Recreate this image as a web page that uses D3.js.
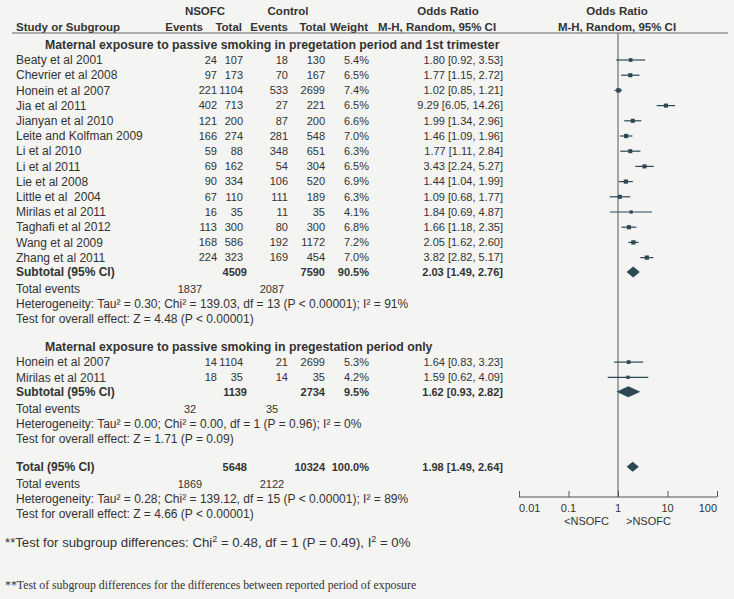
<!DOCTYPE html>
<html>
<head>
<meta charset="utf-8">
<script src="https://cdn.jsdelivr.net/npm/d3@7"></script>
<style>
  body { margin: 0; background: #f4f4f2; }
  svg text { font-family: "Liberation Sans", Arial, sans-serif; font-size: 12px; fill: #333; white-space: pre; }
  svg text.b { font-weight: bold; }
  svg text.num { font-size: 11px; }
  svg text.hd { font-size: 11.5px; font-weight: bold; }
</style>
</head>
<body>
<div id="chart"></div>
<script>
// Forest plot data
const groupTitles = [
  "Maternal exposure to passive smoking in pregetation period and 1st trimester",
  "Maternal exposure to passive smoking in pregestation period only"
];
const studyNames = ["Beaty et al 2001", "Chevrier et al 2008", "Honein et al 2007", "Jia et al 2011",
  "Jianyan et al 2010", "Leite and Kolfman 2009", "Li et al 2010", "Li et al 2011", "Lie et al 2008",
  "Little et al  2004", "Mirilas et al 2011", "Taghafi et al 2012", "Wang et al 2009", "Zhang et al 2011",
  "Honein et al 2007", "Mirilas et al 2011"];
const studyGroup = [0,0,0,0,0,0,0,0,0,0,0,0,0,0,1,1];
const nsofcEvents = [24, 97, 221, 402, 121, 166, 59, 69, 90, 67, 16, 113, 168, 224, 14, 18];
const nsofcTotal = [107, 173, 1104, 713, 200, 274, 88, 162, 334, 110, 35, 300, 586, 323, 1104, 35];
const controlEvents = [18, 70, 533, 27, 87, 281, 348, 54, 106, 111, 11, 80, 192, 169, 21, 14];
const controlTotal = [130, 167, 2699, 221, 200, 548, 651, 304, 520, 189, 35, 300, 1172, 454, 2699, 35];
const weights = [5.4, 6.5, 7.4, 6.5, 6.6, 7.0, 6.3, 6.5, 6.9, 6.3, 4.1, 6.8, 7.2, 7.0, 5.3, 4.2];
const oddsRatio = [1.80, 1.77, 1.02, 9.29, 1.99, 1.46, 1.77, 3.43, 1.44, 1.09, 1.84, 1.66, 2.05, 3.82, 1.64, 1.59];
const ciLower = [0.92, 1.15, 0.85, 6.05, 1.34, 1.09, 1.11, 2.24, 1.04, 0.68, 0.69, 1.18, 1.62, 2.82, 0.83, 0.62];
const ciUpper = [3.53, 2.72, 1.21, 14.26, 2.96, 1.96, 2.84, 5.27, 1.99, 1.77, 4.87, 2.35, 2.60, 5.17, 3.23, 4.09];

// subtotal 1, subtotal 2, overall total
const summaryNames = ["Subtotal (95% CI)", "Subtotal (95% CI)", "Total (95% CI)"];
const summaryNsofcTotal = [4509, 1139, 5648];
const summaryControlTotal = [7590, 2734, 10324];
const summaryWeight = [90.5, 9.5, 100.0];
const summaryOR = [2.03, 1.62, 1.98];
const summaryLower = [1.49, 0.93, 1.49];
const summaryUpper = [2.76, 2.82, 2.64];
const totalEventsNsofc = [1837, 32, 1869];
const totalEventsControl = [2087, 35, 2122];
const heterogeneityText = [
  "Heterogeneity: Tau² = 0.30; Chi² = 139.03, df = 13 (P < 0.00001); I² = 91%",
  "Heterogeneity: Tau² = 0.00; Chi² = 0.00, df = 1 (P = 0.96); I² = 0%",
  "Heterogeneity: Tau² = 0.28; Chi² = 139.12, df = 15 (P < 0.00001); I² = 89%"
];
const overallEffectText = [
  "Test for overall effect: Z = 4.48 (P < 0.00001)",
  "Test for overall effect: Z = 1.71 (P = 0.09)",
  "Test for overall effect: Z = 4.66 (P < 0.00001)"
];
const axisTicks = [0.01, 0.1, 1, 10, 100];
const tickLabels = ["0.01", "0.1", "1", "10", "100"];

const w = 734, h = 599;
const markColor = "#2b4853";
const f2 = d3.format(".2f");
const f1 = d3.format(".1f");

// columns (right edges unless noted)
const col = { name: 16, title: 45, nEv: 217, nTot: 243, cEv: 288, cTot: 325, weight: 369, or: 503 };

const x = d3.scaleLog().domain([0.01, 100]).range([519, 717]);

// vertical layout
const rowStep = 15.2;
let layout = { studies: [], summary: [], titles: [], events: [], het: [], test: [] };
let yy = 45;
[0, 1].forEach(g => {
  layout.titles.push(yy);
  yy += 15;
  studyGroup.forEach((sg, i) => {
    if (sg === g) { layout.studies[i] = yy; yy += rowStep; }
  });
  yy -= 0.7;
  layout.summary.push(yy);
  yy += 17; layout.events.push(yy);
  yy += 15; layout.het.push(yy);
  yy += 15; layout.test.push(yy);
  yy += 28;
});
layout.summary.push(yy);
yy += 17; layout.events.push(yy);
yy += 15; layout.het.push(yy);
yy += 15; layout.test.push(yy);
const axisY = 497;

const svg = d3.select("#chart").append("svg")
  .attr("width", w).attr("height", h)
  .attr("viewBox", [0, 0, w, h]);

svg.append("rect").attr("width", w).attr("height", h).attr("fill", "#f4f4f2");

function txt(xp, yp, s, anchor, cls) {
  return svg.append("text")
    .attr("x", xp).attr("y", yp).attr("dy", "0.35em")
    .attr("text-anchor", anchor || "start")
    .attr("class", cls || null)
    .text(s);
}

// headers
txt(205, 11, "NSOFC", "middle", "hd");
txt(288, 11, "Control", "middle", "hd");
txt(448, 11, "Odds Ratio", "middle", "hd");
txt(617, 11, "Odds Ratio", "middle", "hd");
txt(col.name, 27, "Study or Subgroup", "start", "hd");
txt(203, 27, "Events", "end", "hd");
txt(242, 27, "Total", "end", "hd");
txt(288, 27, "Events", "end", "hd");
txt(326, 27, "Total", "end", "hd");
txt(368, 27, "Weight", "end", "hd");
txt(437, 27, "M-H, Random, 95% CI", "middle", "hd");
txt(617, 27, "M-H, Random, 95% CI", "middle", "hd");

svg.append("line")
  .attr("x1", 12).attr("x2", 728).attr("y1", 33).attr("y2", 33)
  .attr("stroke", "#666").attr("stroke-width", 1);

// reference line at OR = 1
svg.append("line")
  .attr("x1", x(1)).attr("x2", x(1)).attr("y1", 33).attr("y2", axisY)
  .attr("stroke", "#555").attr("stroke-width", 1);

// group titles
groupTitles.forEach((t, g) => txt(col.title, layout.titles[g], t, "start", "b").style("font-size", "12.3px"));

// study rows
studyNames.forEach((name, i) => {
  const ry = layout.studies[i];
  txt(col.name, ry, name);
  txt(col.nEv, ry, nsofcEvents[i], "end", "num");
  txt(col.nTot, ry, nsofcTotal[i], "end", "num");
  txt(col.cEv, ry, controlEvents[i], "end", "num");
  txt(col.cTot, ry, controlTotal[i], "end", "num");
  txt(col.weight, ry, f1(weights[i]) + "%", "end", "num");
  txt(col.or, ry, `${f2(oddsRatio[i])} [${f2(ciLower[i])}, ${f2(ciUpper[i])}]`, "end", "num");
});

// CI lines and squares
const marks = svg.append("g");
marks.selectAll("line.ci")
  .data(studyNames.map((d, i) => i))
  .join("line")
  .attr("class", "ci")
  .attr("x1", i => x(ciLower[i])).attr("x2", i => x(ciUpper[i]))
  .attr("y1", i => layout.studies[i]).attr("y2", i => layout.studies[i])
  .attr("stroke", markColor).attr("stroke-width", 1.2);
marks.selectAll("rect.sq")
  .data(studyNames.map((d, i) => i))
  .join("rect")
  .attr("class", "sq")
  .attr("x", i => x(oddsRatio[i]) - Math.sqrt(weights[i]) * 0.8)
  .attr("y", i => layout.studies[i] - Math.sqrt(weights[i]) * 0.8)
  .attr("width", i => Math.sqrt(weights[i]) * 1.6)
  .attr("height", i => Math.sqrt(weights[i]) * 1.6)
  .attr("fill", markColor);

// summary rows
summaryNames.forEach((name, k) => {
  const ry = layout.summary[k];
  txt(col.name, ry, name, "start", "b");
  txt(col.nTot + 4, ry, summaryNsofcTotal[k], "end", "b num");
  txt(col.cTot, ry, summaryControlTotal[k], "end", "b num");
  txt(col.weight, ry, f1(summaryWeight[k]) + "%", "end", "b num");
  txt(col.or, ry, `${f2(summaryOR[k])} [${f2(summaryLower[k])}, ${f2(summaryUpper[k])}]`, "end", "b num");
  const hh = k === 2 ? 5 : 5.5;
  svg.append("path")
    .attr("d", `M${x(summaryLower[k])},${ry} L${x(summaryOR[k])},${ry - hh} L${x(summaryUpper[k])},${ry} L${x(summaryOR[k])},${ry + hh} Z`)
    .attr("fill", markColor);

  txt(col.name, layout.events[k], "Total events");
  txt(190, layout.events[k], totalEventsNsofc[k], "middle", "num");
  txt(272, layout.events[k], totalEventsControl[k], "middle", "num");
  txt(col.name, layout.het[k], heterogeneityText[k]);
  txt(col.name, layout.test[k], overallEffectText[k]);
});

// bottom axis
const axisG = svg.append("g").attr("transform", `translate(0,${axisY})`);
axisG.call(d3.axisBottom(x).tickValues(axisTicks).tickSize(-6).tickFormat(""))
  .call(g => g.select(".domain").attr("stroke", "#555").attr("d", `M${x(0.01)},0H${x(100)}`))
  .call(g => g.selectAll(".tick line").attr("stroke", "#555"));
axisTicks.forEach((t, i) => {
  const anchor = i === 0 ? "start" : (i === axisTicks.length - 1 ? "end" : "middle");
  txt(x(t), axisY + 11, tickLabels[i], anchor, "num");
});
txt(x(1) - 9, axisY + 24, "<NSOFC", "end", "num");
txt(x(1) + 8, axisY + 24, ">NSOFC", "start", "num");

// footer notes
const note = svg.append("text").attr("x", 5).attr("y", 542).attr("dy", "0.35em")
  .style("font-size", "13.2px");
note.append("tspan").text("**Test for subgroup differences: Chi");
note.append("tspan").attr("baseline-shift", "super").attr("font-size", "9px").text("2");
note.append("tspan").text(" = 0.48, df = 1 (P = 0.49), I");
note.append("tspan").attr("baseline-shift", "super").attr("font-size", "9px").text("2");
note.append("tspan").text(" = 0%");

svg.append("text").attr("x", 5).attr("y", 585).attr("dy", "0.35em")
  .style("font-family", "'Liberation Serif', 'Times New Roman', serif")
  .style("font-size", "11.8px")
  .text("**Test of subgroup differences for the differences between reported period of exposure");
</script>
</body>
</html>
